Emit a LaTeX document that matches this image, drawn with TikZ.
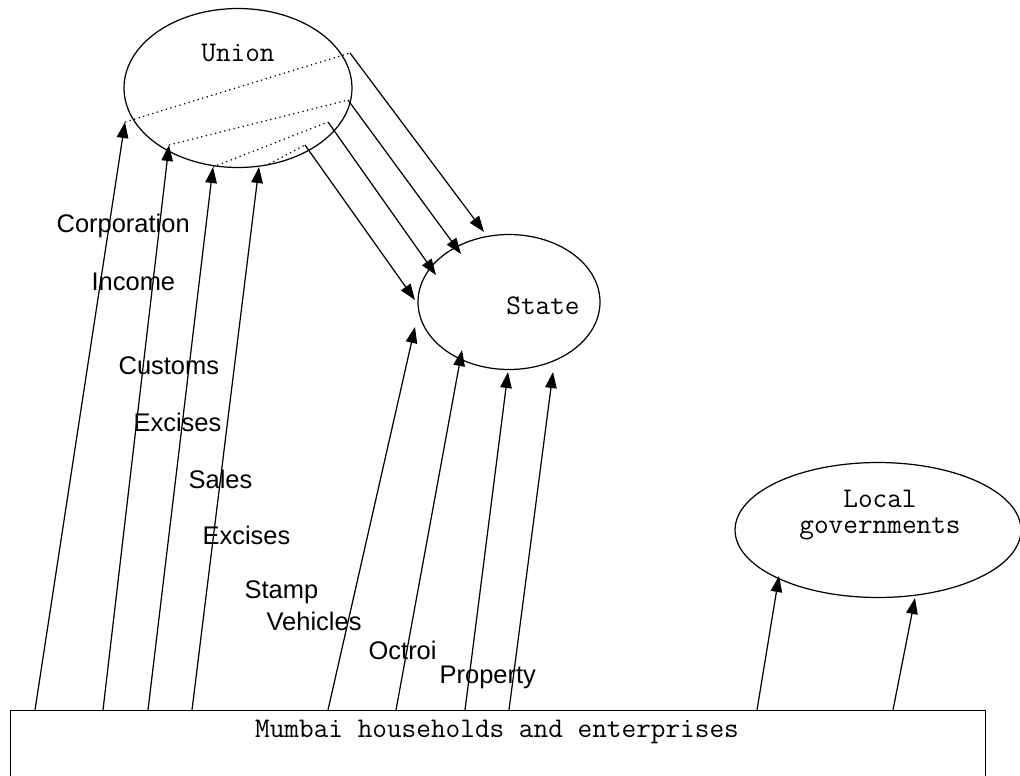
\documentclass[tikz,border=0pt]{standalone}
\usepackage{fontspec}
\setmainfont{Liberation Sans}
\usetikzlibrary{shapes.geometric,arrows.meta}

\begin{document}
\begin{tikzpicture}[
    x=0.02cm, y=-0.02cm,
    line width=0.7pt,
    flow/.style={draw,-{Triangle[length=3.2mm,width=2.3mm]}},
    share/.style={draw,dotted},
    govt/.style={draw, ellipse, inner sep=0pt},
    govtname/.style={inner sep=0pt, align=center, font=\fontsize{16.2}{14.6}\selectfont\ttfamily},
    tax/.style={anchor=west, inner sep=0pt, font=\fontsize{14.5}{17}\selectfont}
]
\useasboundingbox (0,0) rectangle (1020,775);
\clip (0,0) rectangle (1020,775);

% governments
\node[govt, minimum width=4.56cm, minimum height=3.18cm] (union) at (238,88) {};
\node[govtname] (union-name) at (238,53) {Union};
\node[govt, minimum width=3.64cm, minimum height=2.7cm] (state) at (509,302) {};
\node[govtname] (state-name) at (543,306) {State};
\node[govt, minimum width=5.72cm, minimum height=2.7cm] (local) at (878,530) {};
\node[govtname] (local-name) at (880,515) {Local\\governments};

% payers
\node[draw, anchor=north west, minimum width=19.5cm, minimum height=2cm] (mumbai) at (10,710) {};
\node[govtname] (mumbai-name) at (497,732) {Mumbai households and enterprises};

% where the flows start and end
\coordinate (b1) at (35,710);  \coordinate (b2) at (103,710);
\coordinate (b3) at (148,710); \coordinate (b4) at (192,710);
\coordinate (b5) at (328,710); \coordinate (b6) at (396,710);
\coordinate (b7) at (465,710); \coordinate (b8) at (509,710);
\coordinate (b9) at (757,710); \coordinate (b10) at (893,710);
\coordinate (u1) at (125,122); \coordinate (u2) at (169,145);
\coordinate (u3) at (213,167); \coordinate (u4) at (259,167);
\coordinate (d1) at (350,53);  \coordinate (d2) at (348,100);
\coordinate (d3) at (328,122); \coordinate (d4) at (305,145);
\coordinate (d4s) at (269,164);
\coordinate (s1) at (484,232); \coordinate (s2) at (461,254);
\coordinate (s3) at (436,275); \coordinate (s4) at (415,300);
\coordinate (t1) at (415,327); \coordinate (t2) at (462,350);
\coordinate (t3) at (508,372); \coordinate (t4) at (553,372);
\coordinate (l1) at (779,576); \coordinate (l2) at (915,598);

% taxes to the union
\draw[flow] (b1) -- (u1);
\draw[flow] (b2) -- (u2);
\draw[flow] (b3) -- (u3);
\draw[flow] (b4) -- (u4);
% shares passed on to the state
\draw[share] (u1) -- (d1);
\draw[share] (u2) -- (d2);
\draw[share] (u3) -- (d3);
\draw[share] (d4s) -- (d4);
\draw[flow] (d1) -- (s1);
\draw[flow] (d2) -- (s2);
\draw[flow] (d3) -- (s3);
\draw[flow] (d4) -- (s4);
% taxes to the state
\draw[flow] (b5) -- (t1);
\draw[flow] (b6) -- (t2);
\draw[flow] (b7) -- (t3);
\draw[flow] (b8) -- (t4);
% taxes to local governments
\draw[flow] (b9) -- (l1);
\draw[flow] (b10) -- (l2);

% tax names
\node[tax] (corporation) at (56,226) {Corporation};
\node[tax] (income) at (91,282) {Income};
\node[tax] (customs) at (118,366) {Customs};
\node[tax] (excises-u) at (133,422) {Excises};
\node[tax] (sales) at (188,479) {Sales};
\node[tax] (excises-s) at (202,535) {Excises};
\node[tax] (stamp) at (244,592) {Stamp};
\node[tax] (vehicles) at (266,621) {Vehicles};
\node[tax] (octroi) at (368,650) {Octroi};
\node[tax] (property) at (439,677) {Property};
\end{tikzpicture}
\end{document}
